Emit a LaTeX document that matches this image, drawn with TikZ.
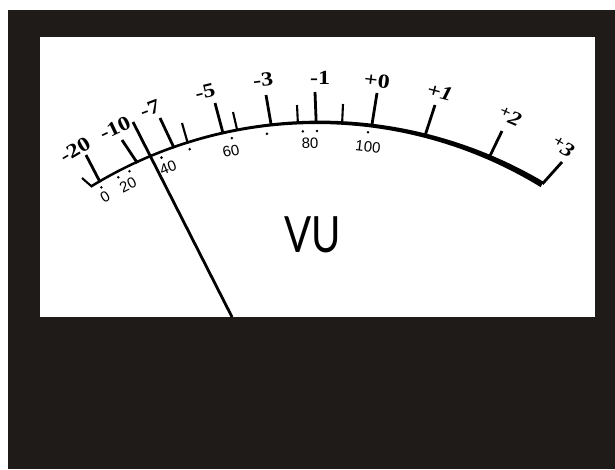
\documentclass[tikz,border=0pt]{standalone}
\usepackage{fontspec}
\setmainfont{Liberation Serif}
\newfontfamily\topf[FakeStretch=1.2]{Liberation Serif}
\newfontfamily\sansf{Liberation Sans}
\newfontfamily\vuf[FakeStretch=0.8]{Lato}
\definecolor{bezel}{HTML}{1F1B18}
\begin{document}
\begin{tikzpicture}[x=1pt,y=-1pt,
  majortick/.style={line width=2.8pt},
  minortick/.style={line width=2.1pt},
  toplab/.style={font=\topf\fontsize{20}{20}\selectfont\bfseries, inner sep=0pt},
  botlab/.style={font=\sansf\fontsize{15}{15}\selectfont, inner sep=0pt},
  scaledot/.style={circle, fill=black, inner sep=0pt, minimum size=2.8pt},
  needle/.style={line width=2.8pt}]
\useasboundingbox (0,0) rectangle (615,469);
\fill[white] (0,0) rectangle (615,469);
\fill[bezel] (8,10) rectangle (615,469);
\fill[white] (40,37) rectangle (595,317);
% scale arc, thickening to the right
\fill plot[domain=121.4:59.4, samples=90] ({320+439.4*cos(\x)},{560-439.4*sin(\x)})
  -- plot[domain=59.4:121.4, samples=90]
  ({320+(436.9-3.6*((121.4-\x)/62)^2)*cos(\x)},{560-(436.9-3.6*((121.4-\x)/62)^2)*sin(\x)})
  -- cycle;
% ticks
\foreach \a/\tx/\ty/\st [count=\i] in {
  121.4/82/178/minortick, 120.2/86/155/majortick, 114.7/122/140/majortick,
  109.5/160/118/majortick, 107.6/182/123/minortick, 102.8/215/103/majortick,
  100.9/233/112/minortick, 96.4/266/95/majortick, 92.9/297/105/minortick,
  90.5/315/92/majortick, 87.1/343/104/minortick, 83.2/377/93/majortick,
  76.1/435/105/majortick, 67.2/502/131/majortick, 59.4/562/162/majortick}
{
  \coordinate (tb\i) at ({320+437*cos(\a)},{560-437*sin(\a)});
  \coordinate (tt\i) at (\tx,\ty);
  \draw[\st] (tb\i) -- (tt\i);
}
% dots
\foreach \a/\r [count=\i] in {120.4/432, 117.8/432.6, 116.1/433, 111.5/432.5,
  107.6/431, 101.8/431, 97.1/429.5, 92.3/429, 90.4/429, 83.6/430.5}
{
  \node[scaledot] (d\i) at ({320+\r*cos(\a)},{560-\r*sin(\a)}) {};
}
% upper labels
\node[toplab, rotate=30.9] (l1) at (75,150) {-20};
\node[toplab, rotate=25.4] (l2) at (115,128) {-10};
\node[toplab, rotate=20.6] (l3) at (150,109) {-7};
\node[toplab, rotate=13.8] (l4) at (205,92) {-5};
\node[toplab, rotate=6.8] (l5) at (263,80) {-3};
\node[toplab, rotate=0] (l6) at (320,78) {-1};
\node[toplab, rotate=-6.8] (l7) at (377,81) {+0};
\node[toplab, rotate=-14.4] (l8) at (440,92) {\itshape +1};
\node[toplab, rotate=-23.2] (l9) at (510,117) {\itshape\raisebox{4pt}{\fontsize{16}{16}\selectfont +}2};
\node[toplab, rotate=-30.5] (l10) at (563,147) {\itshape\raisebox{4pt}{\fontsize{16}{16}\selectfont +}3};
% lower labels
\node[botlab, rotate=30.6] (b1) at (105,197) {0};
\node[botlab, rotate=27] (b2) at (128,185) {20};
\node[botlab, rotate=21] (b3) at (168,168) {40};
\node[botlab, rotate=12.3] (b4) at (231,151) {60};
\node[botlab, rotate=1.4] (b5) at (310,143) {80};
\node[botlab, rotate=-6.6] (b6) at (368,147) {100};
% VU
\node[font=\vuf\fontsize{50}{50}\selectfont, inner sep=0pt] (vu) at (313,235) {VU};
% needle
\coordinate (nt) at (133,122);
\coordinate (nb) at (232,317);
\draw[needle] (nt) -- (nb);
\end{tikzpicture}
\end{document}
